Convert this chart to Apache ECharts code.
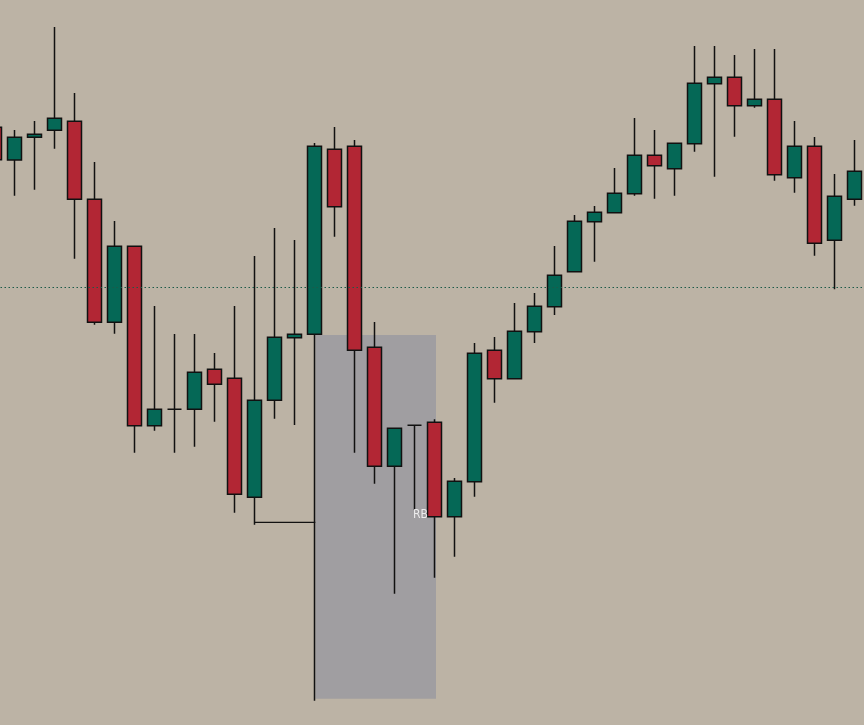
<!DOCTYPE html>
<html>
<head>
<meta charset="utf-8">
<script src="https://cdn.jsdelivr.net/npm/echarts@6/dist/echarts.min.js"></script>
<style>
html,body{margin:0;padding:0;background:#bcb3a5;}
#chart{width:864px;height:725px;}
</style>
</head>
<body>
<div id="chart"></div>
<script>
// Candles (price units)
const categories = ['c0','c1','c2','c3','c4','c5','c6','c7','c8','c9','c10','c11','c12','c13','c14','c15','c16','c17','c18','c19','c20','c21','c22','c23','c24','c25','c26','c27','c28','c29','c30','c31','c32','c33','c34','c35','c36','c37','c38','c39','c40','c41','c42','c43'];
const opens  = [597.7,565,587.7,594.7,603.7,525.7,402.7,478.7,299.3,315.7,315.7,355.7,346.7,227.7,324.7,387.3,390.7,575.7,578.7,377.7,258.7,299.7,302.7,208.3,243.3,374.7,346.3,393.3,418.3,453.3,503.3,512.3,531.3,569.7,556.3,581.3,641.3,647.7,619.3,625.7,547.3,578.7,484.7,525.7];
const closes = [565.3,587.7,590.7,606.7,525.7,402.7,478.7,299.3,315.7,315.7,352.7,340.7,230.7,324.7,387.7,390.7,578.7,518.3,374.7,258.7,296.7,299.7,208.3,243.7,371.7,346.3,393.7,418.7,449.7,503.7,512.7,531.7,569.7,559.3,581.7,641.7,647.7,619.3,625.7,550.3,578.7,481.7,528.7,553.7];
const lows   = [565,529.3,535.3,576.3,466.3,400.3,391.3,272.3,294.3,272.3,278.3,303.3,212.3,200.3,306.3,300,24.3,488.3,272.3,241.3,131.3,215,147.3,168.3,228.3,322.3,346.3,382,410,453.3,463.3,512.3,529.3,526.3,529.3,573.3,548.3,588.3,617.3,544.3,532.3,469.3,435.7,519.3];
const highs  = [598,595,604,698,632,563,504,478.7,419,391,391,372,419,469,497,485,582,598,585,403,296.7,299.7,305.7,247,382,388,422,432,479,510,519,557,607,595,581.7,679,679,670,676,676,604,588,551,585];

// Annotations
const refLevel = 437.7;                 // dotted horizontal level
const zoneX = [16.04, 22.075];          // gray zone, in candle index units
const zoneY = [390, 26.3];
const connX = [13.01, 16.04];           // horizontal connector
const connY = 202.7;
const rbPoint = [21.3, 210];
const rbText = 'RB';

const candleData = opens.map((o, i) => [o, closes[i], lows[i], highs[i]]);

const chart = echarts.init(document.getElementById('chart'), null, {renderer: 'canvas'});
chart.setOption({
  backgroundColor: '#bcb3a5',
  animation: false,
  grid: {left: -15.5, top: 0, width: 880, height: 725, containLabel: false, outerBoundsMode: 'none'},
  xAxis: [
    {type: 'category', data: categories, show: false, boundaryGap: true},
    {type: 'value', min: -0.5, max: 43.5, show: false}
  ],
  yAxis: [{type: 'value', min: 0, max: 725, show: false, splitLine: {show: false}}],
  series: [
    {
      type: 'line',
      xAxisIndex: 1,
      z: 1,
      data: [[connX[0], connY], [connX[1], connY]],
      symbol: 'none',
      lineStyle: {color: '#111', width: 1.2},
      markArea: {
        silent: true,
        itemStyle: {color: '#a09ea1', opacity: 1},
        data: [[{coord: [zoneX[0], zoneY[0]]}, {coord: [zoneX[1], zoneY[1]]}]]
      },
      markLine: {
        silent: true,
        symbol: 'none',
        label: {show: false},
        lineStyle: {color: '#1d5a48', type: [1.5, 2.5], width: 1},
        data: [{yAxis: refLevel}]
      }
    },
    {
      type: 'candlestick',
      z: 3,
      data: candleData,
      barWidth: 14,
      itemStyle: {
        color: '#056856',
        color0: '#b22634',
        borderColor: '#111111',
        borderColor0: '#111111',
        borderWidth: 1.5
      }
    },
    {
      type: 'scatter',
      xAxisIndex: 1,
      z: 5,
      symbolSize: 0,
      data: [rbPoint],
      label: {show: true, position: 'inside', formatter: rbText, color: '#ffffff', fontSize: 12, fontFamily: 'Liberation Sans Narrow, DejaVu Sans Condensed, sans-serif'}
    }
  ]
});
</script>
</body>
</html>
